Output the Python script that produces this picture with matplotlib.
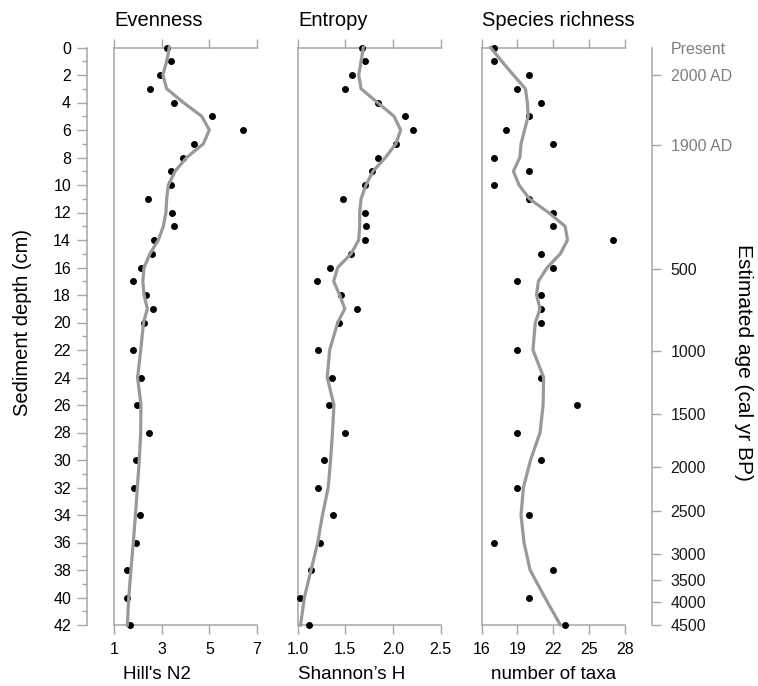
import matplotlib
matplotlib.use("Agg")
import matplotlib.pyplot as plt
import numpy as np

plt.rcParams['font.family'] = ['Liberation Sans', 'DejaVu Sans']

# ---- data ----
depths = [0, 1, 2, 3, 4, 5, 6, 7, 8, 9, 10, 11, 12, 13, 14, 15, 16, 17, 18, 19, 20,
          22, 24, 26, 28, 30, 32, 34, 36, 38, 40, 42]

evenness = [3.21, 3.39, 2.93, 2.50, 3.52, 5.13, 6.41, 4.36, 3.90, 3.39, 3.39, 2.44,
            3.45, 3.52, 2.69, 2.58, 2.12, 1.78, 2.34, 2.62, 2.26,
            1.78, 2.12, 1.98, 2.48, 1.91, 1.84, 2.11, 1.92, 1.53, 1.56, 1.67]
evenness_trend = [3.32, 3.21, 3.05, 3.21, 3.91, 4.68, 5.00, 4.75, 4.05, 3.56, 3.28, 3.21,
                  3.18, 3.07, 2.86, 2.51, 2.26, 2.21, 2.26, 2.40, 2.24,
                  2.12, 1.99, 2.13, 2.12, 2.06, 1.98, 1.90, 1.81, 1.71, 1.62, 1.56]

entropy = [1.67, 1.705, 1.574, 1.50, 1.843, 2.13, 2.21, 2.03, 1.84, 1.78, 1.71, 1.48,
           1.705, 1.72, 1.705, 1.56, 1.34, 1.20, 1.45, 1.62, 1.43,
           1.21, 1.356, 1.325, 1.50, 1.28, 1.21, 1.37, 1.23, 1.14, 1.024, 1.12]
entropy_trend = [1.688, 1.665, 1.64, 1.665, 1.836, 2.01, 2.08, 2.03, 1.92, 1.79, 1.716, 1.665,
                 1.65, 1.65, 1.64, 1.56, 1.42, 1.377, 1.44, 1.494, 1.42,
                 1.335, 1.31, 1.38, 1.365, 1.345, 1.32, 1.26, 1.21, 1.14, 1.07, 1.03]

richness = [17, 17, 20, 19, 21, 20, 18, 22, 17, 20, 17, 20, 22, 22, 27, 21, 22, 19, 21, 21, 21,
            19, 21, 24, 19, 21, 19, 20, 17, 22, 20, 23]
richness_trend = [16.75, 17.68, 18.66, 19.67, 19.83, 19.9, 19.6, 19.3, 19.2, 18.66, 19.13, 20.0,
                  21.6, 23.0, 23.2, 22.6, 21.5, 20.76, 20.6, 20.9, 20.5,
                  20.3, 21.2, 21.15, 20.9, 20.1, 19.5, 19.3, 19.55, 20.06, 21.3, 22.6]

titles = ["Evenness", "Entropy", "Species richness"]
xlabels = ["Hill's N2", "Shannon\u2019s H", "number of taxa"]
xticks_list = [[1, 3, 5, 7], [1.0, 1.5, 2.0, 2.5], [16, 19, 22, 25, 28]]
xticklabels_list = [["1", "3", "5", "7"], ["1.0", "1.5", "2.0", "2.5"],
                    ["16", "19", "22", "25", "28"]]

age_labels = ["Present", "2000 AD", "1900 AD", "500", "1000", "1500", "2000",
              "2500", "3000", "3500", "4000", "4500"]
age_depths = [0, 2, 7.1, 16.1, 22.1, 26.65, 30.5, 33.7, 36.8, 38.7, 40.3, 42]

depth_ticks = list(range(0, 43, 2))

# ---- layout ----
W, H = 758, 686
fig = plt.figure(figsize=(W / 100, H / 100), dpi=100)

top_px, bot_px = 47.5, 625
lefts_px = [114, 297.7, 481.7]
width_px = 143
spine_col = "#a6a6a6"
line_col = "#999999"

series = [(evenness, evenness_trend), (entropy, entropy_trend), (richness, richness_trend)]
xlabel_pos = [0.30, 0.375, 0.5]
axes = []
for i in range(3):
    ax = fig.add_axes([lefts_px[i] / W, 1 - bot_px / H, width_px / W, (bot_px - top_px) / H])
    axes.append(ax)
    pts, trend = series[i]
    ax.plot(pts, depths, 'o', color='black', ms=4, zorder=3, clip_on=False)
    ax.plot(trend, depths, '-', color=line_col, lw=2.3, zorder=4, clip_on=False,
            solid_joinstyle='round')
    ax.set_ylim(42, 0)
    ax.set_xlim(xticks_list[i][0], xticks_list[i][-1])
    ax.set_xticks(xticks_list[i])
    ax.set_xticklabels(xticklabels_list[i], fontsize=11.5)
    ax.tick_params(axis='x', which='both', top=True, bottom=True, direction='out',
                   length=6.5, width=1, color=spine_col, pad=6, labeltop=False)
    ax.tick_params(axis='y', left=False, labelleft=False, right=False)
    for s in ['top', 'bottom', 'left']:
        ax.spines[s].set_color(spine_col)
        ax.spines[s].set_linewidth(1.1)
    ax.spines['right'].set_visible(False)
    ax.text(0.005, 1 + 22 / (bot_px - top_px), titles[i], transform=ax.transAxes,
            ha='left', va='baseline', fontsize=14.5)
    ax.text(xlabel_pos[i], -54 / (bot_px - top_px), xlabels[i], transform=ax.transAxes,
            ha='center', va='baseline', fontsize=13.5)

# depth axis on the left
axd = fig.add_axes([87.3 / W, 1 - bot_px / H, 0.0001, (bot_px - top_px) / H])
axd.set_ylim(42, 0)
axd.set_xticks([])
axd.set_yticks(depth_ticks)
axd.set_yticklabels([str(d) for d in depth_ticks], fontsize=11.5)
axd.set_yticks(range(0, 43), minor=True)
axd.tick_params(axis='y', which='major', direction='out', length=7.2, width=1,
                color=spine_col, pad=4.5)
axd.tick_params(axis='y', which='minor', direction='out', length=3.6, width=1,
                color=spine_col)
for s in ['top', 'bottom', 'right']:
    axd.spines[s].set_visible(False)
axd.spines['left'].set_color(spine_col)
axd.spines['left'].set_linewidth(1.1)
axd.patch.set_visible(False)

# age axis on the right
axa = fig.add_axes([651.7 / W, 1 - bot_px / H, 0.0001, (bot_px - top_px) / H])
axa.set_ylim(42, 0)
axa.set_xticks([])
axa.yaxis.tick_right()
axa.set_yticks(age_depths)
axa.set_yticklabels(age_labels, fontsize=11.5)
axa.tick_params(axis='y', direction='out', length=6.5, width=1, color=spine_col, pad=7)
for s in ['top', 'bottom', 'left']:
    axa.spines[s].set_visible(False)
axa.spines['right'].set_color(spine_col)
axa.spines['right'].set_linewidth(1.1)
axa.patch.set_visible(False)
ticks = axa.yaxis.get_major_ticks()
ticks[0].tick2line.set_visible(False)
for j, lab in enumerate(axa.get_yticklabels()):
    lab.set_color("#7f7f7f" if j < 3 else "#1a1a1a")

fig.text(23 / W, 1 - 322 / H, "Sediment depth (cm)", rotation=90, ha='center', va='center',
         fontsize=14.5)
fig.text(743 / W, 1 - 362 / H, "Estimated age (cal yr BP)", rotation=270, ha='center',
         va='center', fontsize=15)

fig.savefig("out.png", dpi=100)
